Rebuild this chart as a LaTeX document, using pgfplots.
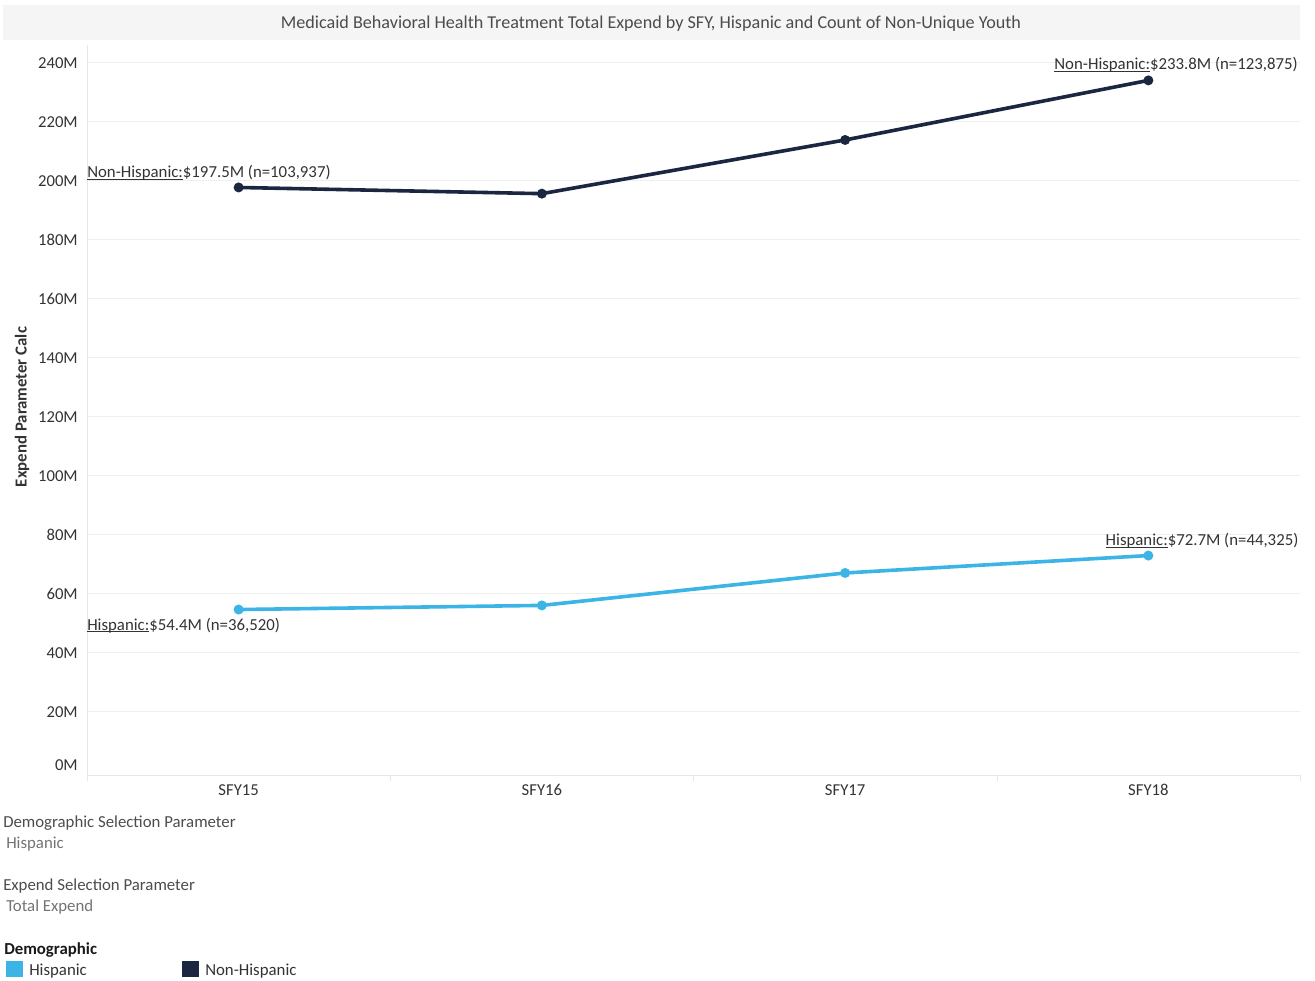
\documentclass[border=0pt]{standalone}
\usepackage{pgfplots}
\pgfplotsset{compat=1.18}
\usepackage{fontspec}
\setmainfont{Carlito}
\definecolor{hisp}{HTML}{3CB4E5}
\definecolor{nonhisp}{HTML}{1B2640}
\definecolor{txt}{HTML}{333333}
\definecolor{gridc}{HTML}{EFEFEF}
\definecolor{axc}{HTML}{E6E6E6}
\newcommand{\fs}{\fontsize{12.6pt}{14pt}\selectfont}
\newcommand{\ul}[1]{\setbox0\hbox{#1}\rlap{\rule[-1.3pt]{\wd0}{0.5pt}}\box0}
\begin{document}
\begin{tikzpicture}
\begin{scope}[x=0.75pt,y=-0.75pt]
\path[use as bounding box] (0,0) rectangle (1315,981);
\fill[black!4] (3,5) rectangle (1300,40);
\node[text=black!70, font=\fontsize{13.6pt}{15pt}\selectfont] at (651,24) {Medicaid Behavioral Health Treatment Total Expend by SFY, Hispanic and Count of Non-Unique Youth};
\node[rotate=90, text=txt, font=\fs\bfseries] at (22,407) {Expend Parameter Calc};
% separator ticks below x axis
\foreach \xx in {390,693,997,1300} \draw[axc, line width=0.75pt] (\xx,775) -- (\xx,781);
\draw[axc, line width=0.75pt] (87,775) -- (87,781);
% bottom texts
\node[anchor=west, inner sep=0, text=black!70, font=\fs] at (3,823) {Demographic Selection Parameter};
\node[anchor=west, inner sep=0, text=black!55, font=\fs] at (6,844) {Hispanic};
\node[anchor=west, inner sep=0, text=black!70, font=\fs] at (3,886) {Expend Selection Parameter};
\node[anchor=west, inner sep=0, text=black!55, font=\fs] at (6,907) {Total Expend};
\node[anchor=west, inner sep=0, text=black!90, font=\fs\bfseries] at (4,950) {Demographic};
\fill[hisp] (6,961) rectangle (23,977);
\node[anchor=west, inner sep=0, text=txt, font=\fs] at (29,971) {Hispanic};
\fill[nonhisp] (182,961) rectangle (199,977);
\node[anchor=west, inner sep=0, text=txt, font=\fs] at (205,971) {Non-Hispanic};
\end{scope}
\begin{axis}[
  at={(65.25pt,-581.25pt)}, anchor=south west,
  scale only axis, width=909.75pt, height=547.5pt,
  xmin=-0.5, xmax=3.5, ymin=-1.7, ymax=245.8,
  axis x line*=bottom, axis y line*=left,
  axis line style={draw=axc, line width=0.75pt, -},
  xtick={0,1,2,3}, xticklabels={SFY15,SFY16,SFY17,SFY18},
  ytick={20,40,...,240},
  yticklabels={20M,40M,60M,80M,100M,120M,140M,160M,180M,200M,220M,240M},
  extra y ticks={0}, extra y tick labels={0M},
  extra y tick style={grid=none, yticklabel style={yshift=4.5pt}},
  major tick length=0pt,
  ymajorgrids, grid style={draw=gridc, line width=0.75pt},
  tick label style={font=\fontsize{12.5pt}{14pt}\selectfont, text=txt},
  yticklabel style={inner sep=0pt, anchor=east, xshift=-6.75pt, yshift=-0.75pt},
  xticklabel style={inner sep=0pt, anchor=center, yshift=-11.3pt},
  clip=false,
]
\addplot[nonhisp, line width=2.7pt, mark=*, mark size=2.3pt] coordinates {(0,197.5) (1,195.4) (2,213.6) (3,233.8)};
\addplot[hisp, line width=2.7pt, mark=*, mark size=2.3pt] coordinates {(0,54.4) (1,55.8) (2,66.8) (3,72.7)};
\node[anchor=west, inner sep=0, text=txt, font=\fs] at (axis cs:-0.5,197.5) [yshift=10.8pt] {\ul{Non-Hispanic:}\$197.5M (n=103,937)};
\node[anchor=east, inner sep=0, text=txt, font=\fs] at (axis cs:3.5,233.8) [yshift=11.5pt, xshift=-1.5pt] {\ul{Non-Hispanic:}\$233.8M (n=123,875)};
\node[anchor=west, inner sep=0, text=txt, font=\fs] at (axis cs:-0.5,54.4) [yshift=-12pt] {\ul{Hispanic:}\$54.4M (n=36,520)};
\node[anchor=east, inner sep=0, text=txt, font=\fs] at (axis cs:3.5,72.7) [yshift=11pt, xshift=-1pt] {\ul{Hispanic:}\$72.7M (n=44,325)};
\end{axis}
\end{tikzpicture}
\end{document}
